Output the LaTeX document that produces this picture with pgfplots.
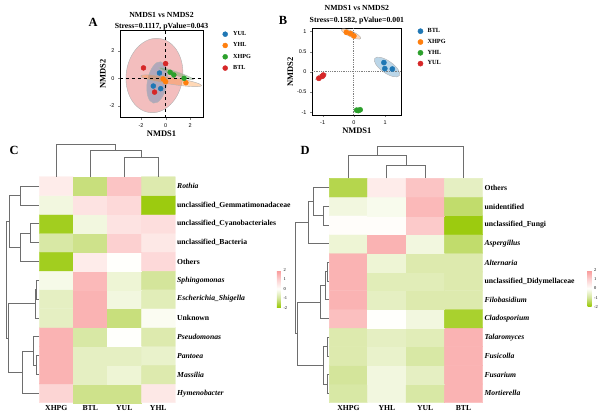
\documentclass[border=0pt]{standalone}
\usepackage{fontspec}
\setmainfont{Liberation Serif}
\newfontfamily\sansf{Liberation Sans}
\usepackage{pgfplots}
\usepackage{pgfplotstable}
\pgfplotsset{compat=1.18}
\definecolor{cblue}{RGB}{31,119,180}
\definecolor{corange}{RGB}{255,127,14}
\definecolor{cgreen}{RGB}{44,160,44}
\definecolor{cred}{RGB}{214,39,40}
\definecolor{dgray}{RGB}{110,110,110}
\pgfplotsset{colormap={hm}{rgb255(0cm)=(150,200,0) rgb255(1cm)=(212,229,155) rgb255(2cm)=(255,255,252) rgb255(3cm)=(252,208,208) rgb255(4cm)=(249,150,150)}}
\pgfplotsset{dendro/.style={draw=dgray, line width=0.75bp, no markers, forget plot}}

\pgfplotstableread{
x y c
0.5 0.5 0.9
1.5 0.5 -1.1
2.5 0.5 -1.1
3.5 0.5 0.5
0.5 1.5 1.5
1.5 1.5 -0.6
2.5 1.5 -0.4
3.5 1.5 -0.8
0.5 2.5 1.5
1.5 2.5 -0.6
2.5 2.5 -0.6
3.5 2.5 -0.5
0.5 3.5 1.5
1.5 3.5 -0.9
2.5 3.5 0.0
3.5 3.5 -0.8
0.5 4.5 -0.6
1.5 4.5 1.5
2.5 4.5 -1.2
3.5 4.5 -0.1
0.5 5.5 -0.6
1.5 5.5 1.5
2.5 5.5 -0.3
3.5 5.5 -0.7
0.5 6.5 -0.2
1.5 6.5 1.4
2.5 6.5 -0.4
3.5 6.5 -1.0
0.5 7.5 -1.8
1.5 7.5 0.4
2.5 7.5 0.0
3.5 7.5 0.8
0.5 8.5 -0.9
1.5 8.5 -1.1
2.5 8.5 1.0
3.5 8.5 0.5
0.5 9.5 -1.8
1.5 9.5 -0.3
2.5 9.5 0.6
3.5 9.5 0.7
0.5 10.5 -0.3
1.5 10.5 0.6
2.5 10.5 0.8
3.5 10.5 -1.9
0.5 11.5 0.4
1.5 11.5 -1.2
2.5 11.5 1.2
3.5 11.5 -0.8
}\hmC

\pgfplotstableread{
x y c
0.5 0.5 -0.9
1.5 0.5 -0.3
2.5 0.5 -0.9
3.5 0.5 1.5
0.5 1.5 -1.0
1.5 1.5 -0.3
2.5 1.5 -0.6
3.5 1.5 1.5
0.5 2.5 -0.8
1.5 2.5 -0.5
2.5 2.5 -0.9
3.5 2.5 1.5
0.5 3.5 -0.8
1.5 3.5 -0.6
2.5 3.5 -0.7
3.5 3.5 1.5
0.5 4.5 1.3
1.5 4.5 0.0
2.5 4.5 -0.3
3.5 4.5 -1.7
0.5 5.5 1.5
1.5 5.5 -0.6
2.5 5.5 -0.8
3.5 5.5 -0.8
0.5 6.5 1.5
1.5 6.5 -0.7
2.5 6.5 -0.7
3.5 6.5 -0.8
0.5 7.5 1.5
1.5 7.5 -0.4
2.5 7.5 -0.8
3.5 7.5 -0.8
0.5 8.5 -0.4
1.5 8.5 1.5
2.5 8.5 -0.3
3.5 8.5 -1.3
0.5 9.5 0.05
1.5 9.5 0.05
2.5 9.5 1.1
3.5 9.5 -1.9
0.5 10.5 -0.3
1.5 10.5 -0.15
2.5 10.5 1.4
3.5 10.5 -1.3
0.5 11.5 -1.5
1.5 11.5 0.4
2.5 11.5 1.2
3.5 11.5 -0.6
}\hmD

\begin{document}
\begin{tikzpicture}
\path[use as bounding box] (0,0) rectangle (600bp,-418bp);

% ---------------- Panel A ----------------
\begin{axis}[
  name=A, scale only axis, width=83bp, height=87.7bp,
  at={(120bp,-117.7bp)}, anchor=south west,
  xmin=-3.71, xmax=3.04, ymin=-2.85, ymax=3.49,
  xtick={-2,0,2}, ytick={-2,0,2},
  tick align=outside, major tick length=2bp, xtick pos=bottom, ytick pos=left,
  axis line style={line width=0.6bp},
  ticklabel style={font=\sansf\fontsize{5.5}{6}\selectfont},
  /pgf/number format/assume math mode=true,
  xlabel={NMDS1}, ylabel={NMDS2},
  label style={font=\bfseries\fontsize{8.5}{9}\selectfont},
  xlabel style={yshift=3bp}, ylabel style={yshift=-3bp},
  every axis title shift=0pt,
  title={NMDS1 vs NMDS2\\Stress=0.1117, pValue=0.043},
  title style={align=center, font=\bfseries\fontsize{7.8}{11}\selectfont, inner sep=0pt, yshift=0bp},
  clip=false,
  legend style={at={(1.235,1.019)}, anchor=north west, draw=none, fill=none, inner sep=0pt,
    font=\bfseries\fontsize{6.2}{7}\selectfont, row sep=0pt,
    nodes={inner sep=0pt, minimum height=11.3bp},
    /tikz/every odd column/.append style={column sep=5.5bp}},
  legend cell align=left,
  legend image code/.code={\draw[mark repeat=1,#1] plot coordinates {(0bp,0bp)};},
]
\draw[draw=gray!60, line width=0.4bp, fill=cred, fill opacity=0.3, rotate around={-8:(axis cs:-0.91,0.2)}] (axis cs:-0.91,0.2) ellipse [x radius=2.3, y radius=2.7];
\draw[draw=gray!60, line width=0.4bp, fill=cblue, fill opacity=0.3, rotate around={-10:(axis cs:-0.69,-0.3)}] (axis cs:-0.69,-0.3) ellipse [x radius=0.8, y radius=1.52];
\draw[draw=gray!60, line width=0.4bp, fill=corange, fill opacity=0.3, rotate around={-9:(axis cs:0.45,-0.18)}] (axis cs:0.45,-0.18) ellipse [x radius=2.5, y radius=0.25];
\draw[draw=gray!60, line width=0.4bp, fill=cgreen, fill opacity=0.3, rotate around={-19:(axis cs:0.84,0.35)}] (axis cs:0.84,0.35) ellipse [x radius=1.5, y radius=0.13];
\draw[black, dashed, line width=0.5bp] (axis cs:0,-2.85) -- (axis cs:0,3.49);
\draw[black, dashed, line width=0.5bp] (axis cs:-3.71,0) -- (axis cs:3.04,0);
\addplot[only marks, mark=*, mark size=2.5bp, color=cblue] coordinates {(-0.5,0.38) (-1.0,-0.56) (-0.4,-0.75)};
\addlegendentry{YUL}
\addplot[only marks, mark=*, mark size=2.5bp, color=corange] coordinates {(-0.2,-0.05) (0.0,-0.25) (1.65,-0.32)};
\addlegendentry{YHL}
\addplot[only marks, mark=*, mark size=2.5bp, color=cgreen] coordinates {(0.37,0.43) (0.67,0.24) (1.5,0.0)};
\addlegendentry{XHPG}
\addplot[only marks, mark=*, mark size=2.5bp, color=cred] coordinates {(-1.8,0.75) (0.0,1.06) (-0.9,-1.0)};
\addlegendentry{BTL}
\end{axis}

% ---------------- Panel B ----------------
\begin{axis}[
  name=B, scale only axis, width=89.7bp, height=86.7bp,
  at={(312bp,-115bp)}, anchor=south west,
  xmin=-1.34, xmax=1.53, ymin=-1.07, ymax=1.08,
  xtick={-1,0,1}, ytick={-1,-0.5,0,0.5,1},
  tick align=outside, major tick length=2bp, xtick pos=bottom, ytick pos=left,
  axis line style={line width=0.6bp},
  ticklabel style={font=\sansf\fontsize{5.5}{6}\selectfont},
  /pgf/number format/assume math mode=true,
  xlabel={NMDS1}, ylabel={NMDS2},
  label style={font=\bfseries\fontsize{8.5}{9}\selectfont},
  xlabel style={yshift=3bp}, ylabel style={yshift=-3bp},
  every axis title shift=0pt,
  title={NMDS1 vs NMDS2\\Stress=0.1582, pValue=0.001},
  title style={align=center, font=\bfseries\fontsize{7.8}{12.3}\selectfont, inner sep=0pt, yshift=3.5bp},
  clip=false,
  legend style={at={(1.178,1.031)}, anchor=north west, draw=none, fill=none, inner sep=0pt,
    font=\bfseries\fontsize{6.3}{7}\selectfont, row sep=0pt,
    nodes={inner sep=0pt, minimum height=10.8bp},
    /tikz/every odd column/.append style={column sep=4.5bp}},
  legend cell align=left,
  legend image code/.code={\draw[mark repeat=1,#1] plot coordinates {(0bp,0bp)};},
]
\draw[draw=gray!60, line width=0.4bp, fill=cblue, fill opacity=0.3, rotate around={-35:(axis cs:1.06,0.12)}] (axis cs:1.06,0.12) ellipse [x radius=0.48, y radius=0.15];
\draw[draw=gray!60, line width=0.4bp, fill=corange, fill opacity=0.3, rotate around={-25:(axis cs:-0.09,0.94)}] (axis cs:-0.09,0.94) ellipse [x radius=0.34, y radius=0.07];
\draw[draw=gray!60, line width=0.3bp, fill=cred, fill opacity=0.25, rotate around={28:(axis cs:-1.05,-0.12)}] (axis cs:-1.05,-0.12) ellipse [x radius=0.2, y radius=0.06];
\draw[draw=gray!60, line width=0.3bp, fill=cgreen, fill opacity=0.3, rotate around={5:(axis cs:0.16,-0.955)}] (axis cs:0.16,-0.955) ellipse [x radius=0.13, y radius=0.04];
\draw[gray, densely dotted, line width=0.8bp] (axis cs:0,-1.07) -- (axis cs:0,1.08);
\draw[gray, densely dotted, line width=0.8bp] (axis cs:-1.34,0) -- (axis cs:1.53,0);
\addplot[only marks, mark=*, mark size=2.6bp, color=cblue] coordinates {(0.96,0.23) (0.99,0.08) (1.23,0.07)};
\addlegendentry{BTL}
\addplot[only marks, mark=*, mark size=2.6bp, color=corange] coordinates {(-0.24,0.98) (-0.11,0.95) (0.0,0.89)};
\addlegendentry{XHPG}
\addplot[only marks, mark=*, mark size=2.6bp, color=cgreen] coordinates {(0.09,-0.95) (0.14,-0.96) (0.2,-0.94)};
\addlegendentry{YHL}
\addplot[only marks, mark=*, mark size=2.6bp, color=cred] coordinates {(-1.12,-0.16) (-1.01,-0.11) (-0.98,-0.08)};
\addlegendentry{YUL}
\end{axis}

% ---------------- Panel C ----------------
\begin{axis}[
  name=C, scale only axis, width=136bp, height=226bp,
  at={(39.3bp,-402.7bp)}, anchor=south west,
  xmin=0, xmax=4, ymin=0, ymax=12,
  clip=false, axis line style={draw=none}, major tick length=0pt,
  xtick={0.5,1.5,2.5,3.5}, xticklabels={XHPG,BTL,YUL,YHL},
  ytick={0.5,1.5,...,11.5},
  yticklabels={\textit{Hymenobacter},\textit{Massilia},\textit{Pantoea},\textit{Pseudomonas},Unknown,\textit{Escherichia\_Shigella},\textit{Sphingomonas},Others,unclassified\_Bacteria,unclassified\_Cyanobacteriales,unclassified\_Gemmatimonadaceae,\textit{Rothia}},
  yticklabel pos=right,
  ticklabel style={font=\bfseries\fontsize{7.7}{8}\selectfont, inner sep=0pt},
  yticklabel style={anchor=west, xshift=1.7bp},
  xticklabel style={anchor=north, yshift=-2.5bp},
  colormap name=hm, point meta min=-2, point meta max=2,
  colorbar,
  colorbar style={at={(parent axis.north east)}, anchor=north west, xshift=93bp, yshift=-93.3bp,
    scale only axis, width=4bp, height=37.7bp, axis line style={draw=none}, major tick length=0pt,
    ytick={-2,-1,0,1,2}, /pgf/number format/assume math mode=true,
    yticklabel style={font=\fontsize{4.5}{5}\selectfont, inner sep=0pt, xshift=2.5bp}},
]
\addplot[matrix plot*, mesh/cols=4, point meta=explicit] table[meta=c] {\hmC};
% column dendrogram
\addplot[dendro] coordinates {(2.5,12) (2.5,13.03) (3.5,13.03) (3.5,12)};
\addplot[dendro] coordinates {(1.5,12) (1.5,13.42) (3.0,13.42) (3.0,13.03)};
\addplot[dendro] coordinates {(0.5,12) (0.5,13.74) (2.25,13.74) (2.25,13.42)};
% row dendrogram
\addplot[dendro] coordinates {(0,11.5) (-0.57,11.5) (-0.57,10.5) (0,10.5)};
\addplot[dendro] coordinates {(0,9.5) (-0.25,9.5) (-0.25,8.5) (0,8.5)};
\addplot[dendro] coordinates {(-0.25,9.0) (-0.55,9.0) (-0.55,7.5) (0,7.5)};
\addplot[dendro] coordinates {(-0.57,11.0) (-0.88,11.0) (-0.88,8.25) (-0.55,8.25)};
\addplot[dendro] coordinates {(0,6.5) (-0.08,6.5) (-0.08,5.5) (0,5.5)};
\addplot[dendro] coordinates {(-0.08,6.0) (-0.13,6.0) (-0.13,4.5) (0,4.5)};
\addplot[dendro] coordinates {(0,2.5) (-0.08,2.5) (-0.08,1.5) (0,1.5)};
\addplot[dendro] coordinates {(0,3.5) (-0.18,3.5) (-0.18,2.0) (-0.08,2.0)};
\addplot[dendro] coordinates {(-0.18,2.75) (-0.49,2.75) (-0.49,0.5) (0,0.5)};
\addplot[dendro] coordinates {(-0.13,5.25) (-0.91,5.25) (-0.91,1.625) (-0.49,1.625)};
\addplot[dendro] coordinates {(-0.88,9.625) (-0.98,9.625) (-0.98,3.4375) (-0.91,3.4375)};
\end{axis}

% ---------------- Panel D ----------------
\begin{axis}[
  name=D, scale only axis, width=153.4bp, height=224.4bp,
  at={(329.3bp,-402.7bp)}, anchor=south west,
  xmin=0, xmax=4, ymin=0, ymax=12,
  clip=false, axis line style={draw=none}, major tick length=0pt,
  xtick={0.5,1.5,2.5,3.5}, xticklabels={XHPG,YHL,YUL,BTL},
  ytick={0.5,1.5,...,11.5},
  yticklabels={\textit{Mortierella},\textit{Fusarium},\textit{Fusicolla},\textit{Talaromyces},\textit{Cladosporium},\textit{Filobasidium},unclassified\_Didymellaceae,\textit{Alternaria},\textit{Aspergillus},unclassified\_Fungi,unidentified,Others},
  yticklabel pos=right,
  ticklabel style={font=\bfseries\fontsize{7.7}{8}\selectfont, inner sep=0pt},
  yticklabel style={anchor=west, xshift=1.7bp},
  xticklabel style={anchor=north, yshift=-2.5bp},
  colormap name=hm, point meta min=-2, point meta max=2,
  colorbar,
  colorbar style={at={(parent axis.north east)}, anchor=north west, xshift=96.3bp, yshift=-91.7bp,
    scale only axis, width=4bp, height=36.7bp, axis line style={draw=none}, major tick length=0pt,
    ytick={-2,-1,0,1,2}, /pgf/number format/assume math mode=true,
    yticklabel style={font=\fontsize{4.5}{5}\selectfont, inner sep=0pt, xshift=2.5bp}},
]
\addplot[matrix plot*, mesh/cols=4, point meta=explicit] table[meta=c] {\hmD};
% column dendrogram
\addplot[dendro] coordinates {(1.5,12) (1.5,12.71) (2.5,12.71) (2.5,12)};
\addplot[dendro] coordinates {(0.5,12) (0.5,13.25) (2.0,13.25) (2.0,12.71)};
\addplot[dendro] coordinates {(1.25,13.25) (1.25,13.73) (3.5,13.73) (3.5,12)};
% row dendrogram
\addplot[dendro] coordinates {(0,10.5) (-0.16,10.5) (-0.16,9.5) (0,9.5)};
\addplot[dendro] coordinates {(0,11.5) (-0.42,11.5) (-0.42,10) (-0.16,10)};
\addplot[dendro] coordinates {(-0.42,10.75) (-0.55,10.75) (-0.55,8.5) (0,8.5)};
\addplot[dendro] coordinates {(0,7.5) (-0.05,7.5) (-0.05,6.5) (0,6.5)};
\addplot[dendro] coordinates {(-0.05,7) (-0.09,7) (-0.09,5.5) (0,5.5)};
\addplot[dendro] coordinates {(-0.09,6.25) (-0.24,6.25) (-0.24,4.5) (0,4.5)};
\addplot[dendro] coordinates {(0,3.5) (-0.06,3.5) (-0.06,2.5) (0,2.5)};
\addplot[dendro] coordinates {(0,1.5) (-0.06,1.5) (-0.06,0.5) (0,0.5)};
\addplot[dendro] coordinates {(-0.06,3) (-0.16,3) (-0.16,1) (-0.06,1)};
\addplot[dendro] coordinates {(-0.24,5.375) (-0.84,5.375) (-0.84,2) (-0.16,2)};
\addplot[dendro] coordinates {(-0.55,9.625) (-0.89,9.625) (-0.89,3.6875) (-0.84,3.6875)};
\end{axis}

% panel letters
\node[font=\bfseries\fontsize{12.5}{13}\selectfont] at (93bp,-22bp) {A};
\node[font=\bfseries\fontsize{12.5}{13}\selectfont] at (283bp,-20bp) {B};
\node[font=\bfseries\fontsize{12.5}{13}\selectfont] at (14bp,-150bp) {C};
\node[font=\bfseries\fontsize{12.5}{13}\selectfont] at (305bp,-150bp) {D};
\end{tikzpicture}
\end{document}
